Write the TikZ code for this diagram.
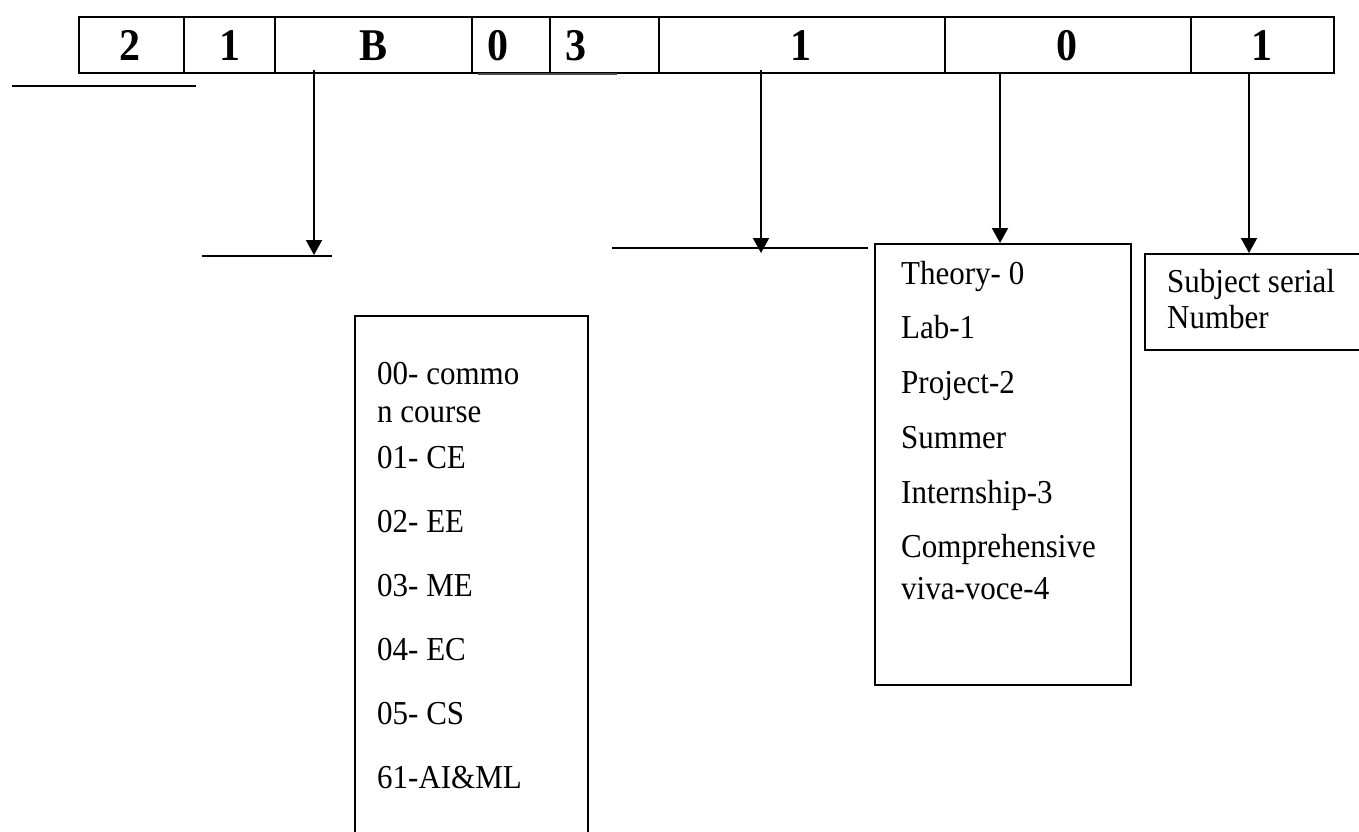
\documentclass[tikz,border=0pt]{standalone}
\usepackage{fontspec}
\setmainfont{Liberation Serif}
\usetikzlibrary{arrows.meta}
\begin{document}
\begin{tikzpicture}[x=1pt,y=-1pt,
 cell/.style={draw, line width=2pt, anchor=north west, inner sep=0pt, minimum height=56pt},
 digit/.style={font=\fontsize{42}{42}\selectfont\bfseries, anchor=base, inner sep=0pt, yscale=1.08},
 info/.style={draw, line width=1.6pt, anchor=north west, inner sep=0pt},
 txt/.style={font=\fontsize{31}{36}\selectfont, anchor=base west, inner sep=0pt, yscale=1.08},
 arr/.style={line width=2pt, -{Triangle[width=16pt,length=15pt]}},
 rule/.style={line width=2.5pt}]
\useasboundingbox (0,0) rectangle (1359,831);
% top row cells
\node[cell, minimum width=105pt] (c1) at (78,16) {};
\node[cell, minimum width=91pt]  (c2) at (183,16) {};
\node[cell, minimum width=197pt] (c3) at (274,16) {};
\node[cell, minimum width=78pt]  (c4) at (471,16) {};
\node[cell, minimum width=109pt] (c5) at (549,16) {};
\node[cell, minimum width=286pt] (c6) at (658,16) {};
\node[cell, minimum width=246pt] (c7) at (944,16) {};
\node[cell, minimum width=143pt] (c8) at (1190,16) {};
% digits
\node[digit] (d1) at (130,60) {2};
\node[digit] (d2) at (230,60) {1};
\node[digit] (d3) at (374,60) {B};
\node[digit] (d4) at (498,60) {0};
\node[digit] (d5) at (576,60) {3};
\node[digit] (d6) at (801,60) {1};
\node[digit] (d7) at (1067,60) {0};
\node[digit] (d8) at (1262,60) {1};
% stray rules
\draw[rule] (12,86) -- (196,86);
\draw[line width=2pt, gray!60!black] (478,74) -- (617,74);
\draw[rule] (202,256) -- (332,256);
\draw[rule] (612,248) -- (868,248);
% boxes
\node[info, minimum width=233pt, minimum height=540pt] (bbox) at (354,315) {};
\node[info, minimum width=256pt, minimum height=441pt] (tbox) at (874,243) {};
\node[info, minimum width=240pt, minimum height=96pt] (sbox) at (1144,253) {};
% left box text
\node[txt] (l1) at (377,384) {00- commo};
\node[txt] (l2) at (377,422) {n course};
\node[txt] (l3) at (377,468) {01- CE};
\node[txt] (l4) at (377,532) {02- EE};
\node[txt] (l5) at (377,596) {03- ME};
\node[txt] (l6) at (377,660) {04- EC};
\node[txt] (l7) at (377,724) {05- CS};
\node[txt] (l8) at (377,788) {61-AI\&ML};
% theory box text
\node[txt] (t1) at (901,284) {Theory- 0};
\node[txt] (t2) at (901,338) {Lab-1};
\node[txt] (t3) at (901,393) {Project-2};
\node[txt] (t4) at (901,448) {Summer};
\node[txt] (t5) at (901,503) {Internship-3};
\node[txt] (t6) at (901,557) {Comprehensive};
\node[txt] (t7) at (901,599) {viva-voce-4};
% subject box text
\node[txt] (s1) at (1167,292) {Subject serial};
\node[txt] (s2) at (1167,328) {Number};
% arrows
\coordinate (aB) at (314,70);
\coordinate (aBe) at (314,255);
\coordinate (a1) at (761,70);
\coordinate (a1e) at (761,253);
\coordinate (a0) at (1000,72);
\coordinate (a9) at (1249,72);
\draw[arr] (aB) -- (aBe);
\draw[arr] (a1) -- (a1e);
\draw[arr] (a0) -- (a0 |- tbox.north);
\draw[arr] (a9) -- (a9 |- sbox.north);
\end{tikzpicture}
\end{document}
